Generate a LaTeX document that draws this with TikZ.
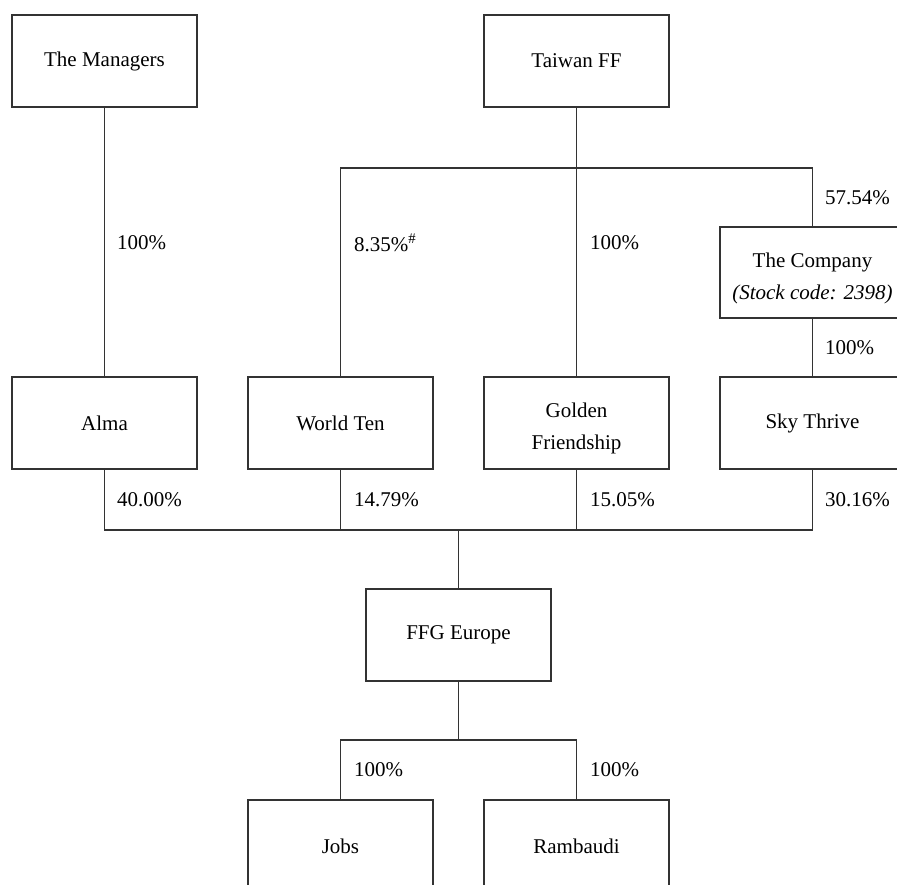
\documentclass[tikz,border=0pt]{standalone}
\usepackage{fontspec}
\setmainfont{Liberation Serif}
\begin{document}
\begin{tikzpicture}[x=1pt,y=-1pt,
  entity/.style={draw=black!80,line width=1.1pt,minimum width=185pt,minimum height=92pt,
    align=center,inner sep=0pt,font=\fontsize{21}{32}\selectfont},
  share/.style={anchor=west,inner sep=0pt,font=\fontsize{21}{25}\selectfont},
  link/.style={draw=black!80,line width=1.1pt}]
\useasboundingbox (0,0) rectangle (897,885);
\clip (0,0) rectangle (897,885);
% top row
\node[entity] (managers) at (104.5,61) {The Managers};
\node[entity] (taiwan) at (576.5,61) {Taiwan FF};
\node[entity,minimum height=91pt] (company) at (812.5,272.5) {\rule{0pt}{26pt}The Company\\\textit{(Stock code: 2398)}};
% middle row
\node[entity] (alma) at (104.5,423) {Alma};
\node[entity] (world) at (340.5,423) {World Ten};
\node[entity] (golden) at (576.5,423) {\rule{0pt}{26pt}Golden\\Friendship};
\node[entity] (sky) at (812.5,423) {Sky Thrive};
\node[entity] (ffg) at (458.5,635) {FFG Europe};
% bottom row
\node[entity] (jobs) at (340.5,846) {Jobs};
\node[entity] (ramb) at (576.5,846) {Rambaudi};
\coordinate (tbar) at (576.5,168);
\coordinate (bbar) at (458.5,530);
\coordinate (cbar) at (458.5,740);
\draw[link] (managers.south) -- (alma.north);
\draw[link] (taiwan.south) -- (golden.north);
\draw[link] (world.north) |- (tbar) -| (company.north);
\draw[link] (company.south) -- (sky.north);
\draw[link] (alma.south) |- (bbar) -| (sky.south);
\draw[link] (world.south) -- (world.south |- bbar);
\draw[link] (golden.south) -- (golden.south |- bbar);
\draw[link] (bbar) -- (ffg.north);
\draw[link] (ffg.south) -- (cbar);
\draw[link] (jobs.north) |- (cbar) -| (ramb.north);
% holdings
\node[share] (pmanagers) at (117,243) {100\%};
\node[share] (pworld) at (354,243) {8.35\%\textsuperscript{\#}};
\node[share] (pgolden) at (590,243) {100\%};
\node[share] (pcompany) at (825,198) {57.54\%};
\node[share] (psky) at (825,348) {100\%};
\node[share] (palma) at (117,500) {40.00\%};
\node[share] (pworldb) at (354,500) {14.79\%};
\node[share] (pgoldenb) at (590,500) {15.05\%};
\node[share] (pskyb) at (825,500) {30.16\%};
\node[share] (pjobs) at (354,770) {100\%};
\node[share] (pramb) at (590,770) {100\%};
\end{tikzpicture}
\end{document}
